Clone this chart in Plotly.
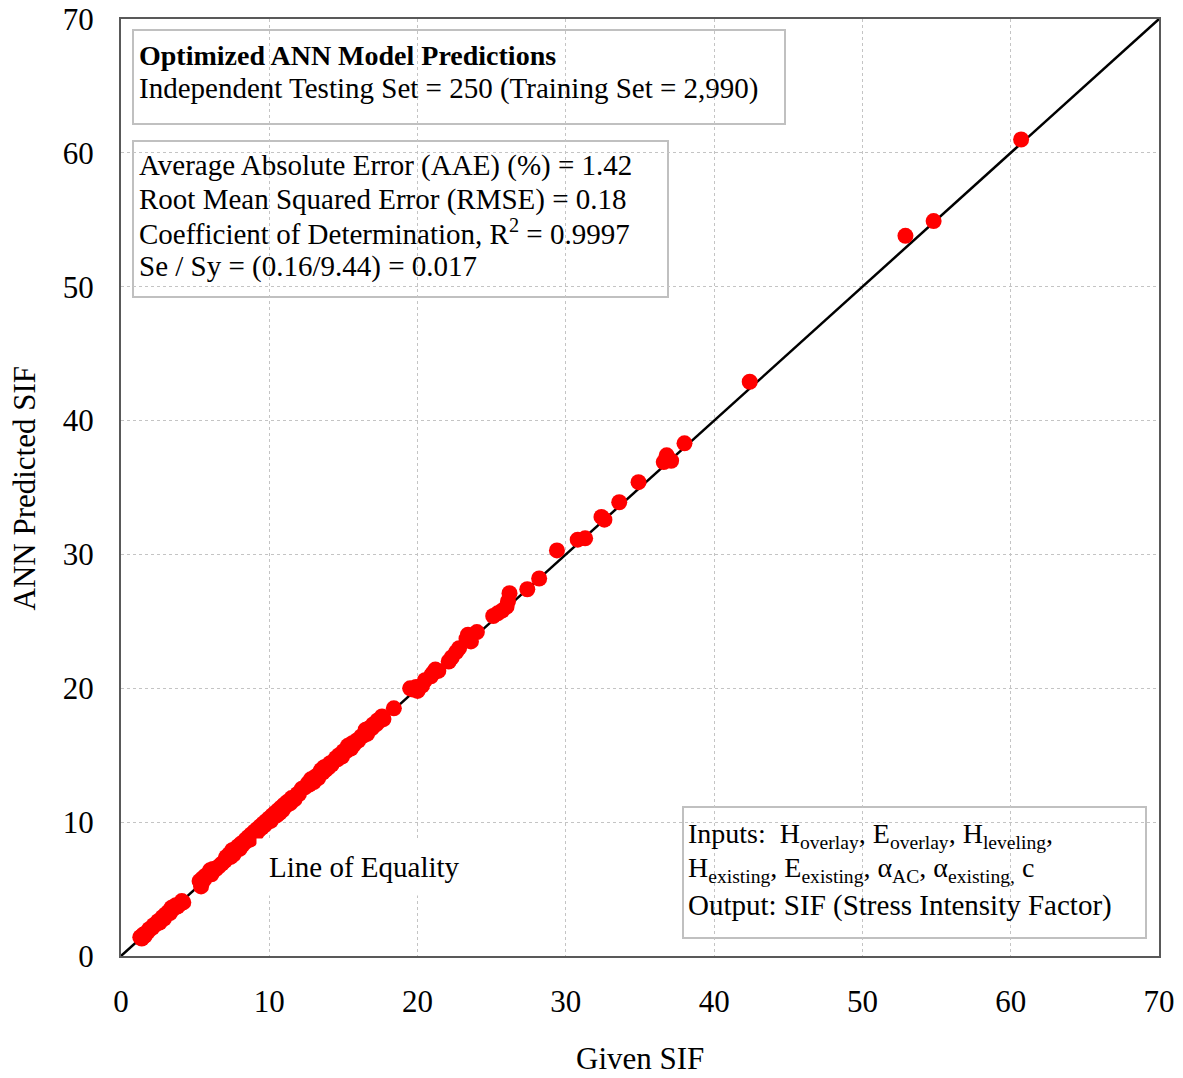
import plotly.graph_objects as go

# ---------------- data ----------------
given_low = [1.3, 1.4, 1.5, 1.6, 1.8, 1.9, 2.1, 2.2, 2.4, 2.5, 2.6, 2.8, 2.9, 3.0, 3.2, 3.3, 3.4, 3.5, 3.7, 3.8, 4.0, 4.1, 4.2]
pred_low = [1.4, 1.3, 1.6, 1.5, 1.8, 2.0, 2.1, 2.3, 2.4, 2.6, 2.5, 2.9, 2.8, 3.1, 3.3, 3.2, 3.6, 3.5, 3.8, 3.7, 3.9, 4.1, 4.0]

given_mid = [5.3, 5.4, 5.5, 5.6, 5.7, 5.9, 6.0, 6.1, 6.2, 6.4, 6.6, 6.8, 7.0, 7.1, 7.3, 7.4, 7.5, 7.6, 7.7, 7.8,
             7.9, 8.0, 8.1, 8.2, 8.3, 8.4, 8.5, 8.6, 8.7, 8.8, 8.9, 9.0, 9.1, 9.2, 9.3, 9.4, 9.5, 9.6, 9.7, 9.8,
             9.9, 10.0, 10.1, 10.2, 10.3, 10.4, 10.5, 10.6, 10.7, 10.8, 10.9, 11.0, 11.1, 11.2, 11.4, 11.5, 11.7, 11.9, 12.0, 12.2,
             12.4, 12.6, 12.7, 12.8, 13.0, 13.1, 13.3, 13.4, 13.5, 13.6, 13.7, 13.8, 13.9, 14.0, 14.1, 14.2, 14.3, 14.5, 14.6, 14.7,
             14.9, 15.0, 15.2, 15.3, 15.5, 15.6, 15.7, 15.9, 16.0, 16.2, 16.4, 16.5, 16.6, 16.7, 16.9, 17.0, 17.2, 17.3, 17.5, 17.6,
             17.7, 18.4]
pred_mid = [5.6, 5.2, 5.8, 5.7, 6.0, 6.1, 6.4, 6.1, 6.5, 6.5, 6.7, 6.9, 7.1, 7.4, 7.6, 7.4, 7.9, 7.6, 8.0, 8.0,
            8.2, 8.0, 8.4, 8.3, 8.5, 8.7, 8.6, 8.9, 8.7, 9.1, 9.0, 9.3, 9.1, 9.5, 9.4, 9.7, 9.6, 9.9, 9.8, 10.1,
            10.0, 10.3, 10.1, 10.5, 10.4, 10.7, 10.5, 10.9, 10.7, 11.1, 10.9, 11.3, 11.2, 11.5, 11.4, 11.8, 11.7, 12.1, 12.1, 12.5,
            12.6, 12.9, 12.8, 13.2, 13.0, 13.4, 13.3, 13.7, 13.9, 13.7, 14.1, 13.9, 14.2, 14.1, 14.4, 14.3, 14.5, 14.8, 14.7, 15.0,
            14.9, 15.3, 15.3, 15.7, 15.5, 15.9, 15.8, 16.1, 16.1, 16.4, 16.5, 16.9, 16.6, 17.0, 17.0, 17.3, 17.3, 17.6, 17.6, 17.9,
            17.7, 18.5]

given_high = [19.5, 19.7, 19.9, 20.0, 20.3, 20.5, 20.9, 21.0, 21.2, 21.4, 22.1, 22.3, 22.6, 22.8, 23.3, 23.4, 23.6, 24.0,
              25.1, 25.4, 25.7, 26.0, 26.1, 26.2, 27.4, 28.2, 29.4, 30.8, 31.3, 32.4, 32.6, 33.6, 34.9, 36.6, 36.8, 37.1,
              38.0, 42.4, 52.9, 54.8, 60.7]
pred_high = [20.0, 19.9, 20.1, 19.8, 20.2, 20.6, 20.9, 21.1, 21.4, 21.3, 22.0, 22.3, 22.7, 23.0, 23.7, 24.0, 23.5, 24.2,
             25.4, 25.6, 25.8, 26.1, 26.5, 27.1, 27.4, 28.2, 30.3, 31.1, 31.2, 32.8, 32.6, 33.9, 35.4, 36.9, 37.4, 37.0,
             38.3, 42.9, 53.8, 54.9, 61.0]

given_sif = given_low + given_mid + given_high
predicted_sif = pred_low + pred_mid + pred_high

equality_x = [0, 70]
equality_y = [0, 70]

tick_vals = [0, 10, 20, 30, 40, 50, 60, 70]

# ---------------- figure ----------------
FONT = "Liberation Serif, Times New Roman, serif"

fig = go.Figure()
fig.add_trace(go.Scatter(x=equality_x, y=equality_y, mode="lines",
                         line=dict(color="black", width=2.5), hoverinfo="skip", showlegend=False))
fig.add_trace(go.Scatter(x=given_sif, y=predicted_sif, mode="markers",
                         marker=dict(color="#ff0000", size=16, line=dict(width=0)), showlegend=False))

axis_common = dict(range=[0, 70], tickvals=tick_vals, showline=True, linecolor="#595959", linewidth=2,
                   mirror=True, showgrid=True, gridcolor="#c4c4c4", griddash="dot", gridwidth=1,
                   zeroline=False, ticks="", automargin=False,
                   tickfont=dict(family=FONT, size=31, color="black"))

fig.update_xaxes(**axis_common, ticklabelstandoff=17)
fig.update_yaxes(**axis_common, ticklabelstandoff=19)

annotations = []
# axis titles
annotations.append(dict(text="Given SIF", xref="paper", yref="paper", x=0.5, y=-0.1089,
                        xanchor="center", yanchor="middle", showarrow=False,
                        font=dict(family=FONT, size=31, color="black")))
annotations.append(dict(text="ANN Predicted SIF", xref="paper", yref="paper", x=-0.0925, y=0.5,
                        xanchor="center", yanchor="middle", showarrow=False, textangle=-90,
                        font=dict(family=FONT, size=31, color="black")))

def line(text, xpx, ypx, size=29):
    return dict(text=text, xref="paper", yref="paper",
                x=(xpx - 121) / 1038, y=(956 - ypx) / 937,
                xanchor="left", yanchor="middle", showarrow=False,
                font=dict(family=FONT, size=size, color="black"))

annotations += [
    line("<b>Optimized ANN Model Predictions</b>", 137, 55, 28),
    line("Independent Testing Set = 250 (Training Set = 2,990)", 137, 88),
    line("Average Absolute Error (AAE) (%) = 1.42", 137, 165),
    line("Root Mean Squared Error (RMSE) = 0.18", 137, 199),
    line("Coefficient of Determination, R<sup>2</sup> = 0.9997", 137, 232),
    line("Se / Sy = (0.16/9.44) = 0.017", 137, 266),
    line("Inputs:  H<sub>overlay</sub>, E<sub>overlay</sub>, H<sub>leveling</sub>,", 686, 835, 28),
    line("H<sub>existing</sub>, E<sub>existing</sub>, α<sub>AC</sub>, α<sub>existing,</sub> c", 686, 869, 28),
    line("Output: SIF (Stress Intensity Factor)", 686, 905, 29),
]

annotations.append(dict(text="Line of Equality", xref="x", yref="y", x=16.4, y=6.65,
                        xanchor="center", yanchor="middle", showarrow=False, bgcolor="white",
                        borderpad=12, font=dict(family=FONT, size=29, color="black")))

def box(x0, y0, x1, y1):
    return dict(type="rect", xref="paper", yref="paper",
                x0=(x0 - 121) / 1038, x1=(x1 - 121) / 1038,
                y0=(956 - y1) / 937, y1=(956 - y0) / 937,
                line=dict(color="#c0c0c0", width=2), fillcolor="white", layer="below")

shapes = [box(133, 30, 785, 124), box(133, 141, 668, 297), box(683, 807, 1146, 938)]

fig.update_layout(width=1183, height=1078,
                  margin=dict(l=121, r=24, t=19, b=122, autoexpand=False),
                  paper_bgcolor="white", plot_bgcolor="white",
                  annotations=annotations, shapes=shapes,
                  font=dict(family=FONT, color="black"))

fig.write_html("out.html", config={"displayModeBar": False},
               post_script="document.body.style.margin='0';document.body.style.padding='0';"
                           "document.body.style.overflow='hidden';")
